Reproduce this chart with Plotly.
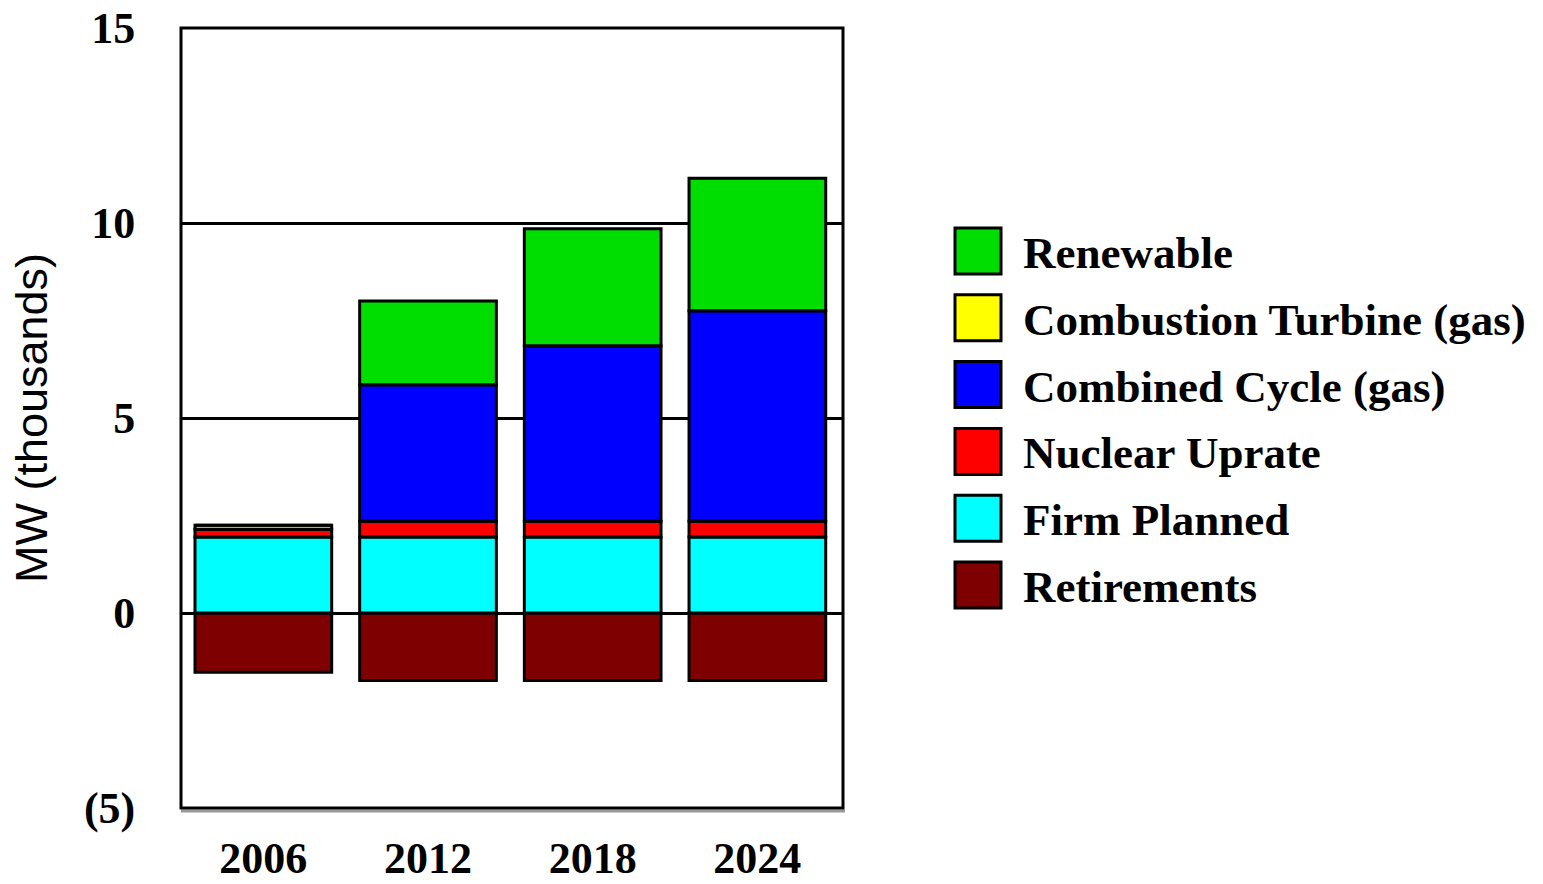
import plotly.graph_objects as go

years = ["2006", "2012", "2018", "2024"]
retirements = [-1.52, -1.73, -1.73, -1.73]
firm_planned = [1.95, 1.95, 1.95, 1.95]
nuclear_uprate = [0.2, 0.4, 0.4, 0.4]
combined_cycle = [0.0, 3.5, 4.5, 5.4]
combustion_turbine = [0.1, 0.0, 0.0, 0.0]
renewable = [0.0, 2.15, 3.0, 3.4]

series = [
    ("Retirements", retirements, "#7f0000"),
    ("Firm Planned", firm_planned, "#00ffff"),
    ("Nuclear Uprate", nuclear_uprate, "#ff0000"),
    ("Combined Cycle (gas)", combined_cycle, "#0000ff"),
    ("Combustion Turbine (gas)", combustion_turbine, "#ffff00"),
    ("Renewable", renewable, "#00dd00"),
]

y_tickvals = [-5, 0, 5, 10, 15]
y_ticktext = ["(5)", "0", "5", "10", "15"]

W, H = 1543, 884
# target pixel positions in the screenshot
L, R, T, B = 181, 843, 28, 808

fig = go.Figure()
for name, vals, color in series:
    fig.add_trace(go.Bar(
        x=years, y=vals, name=name, width=0.83,
        marker=dict(color=color, line=dict(color="black", width=3)),
        showlegend=False,
    ))

serif = "Liberation Serif, Times New Roman, serif"

def px_x(p):
    return (p - L) / (R - L)

def px_y(p):
    return (B - p) / (B - T)

shapes = []
annotations = []
# frame shadow and frame
shapes.append(dict(type="line", xref="paper", yref="paper", x0=px_x(L), x1=px_x(R + 2), y0=px_y(B + 3), y1=px_y(B + 3),
                   line=dict(color="#999999", width=3)))
shapes.append(dict(type="rect", xref="paper", yref="paper", x0=0, x1=1, y0=0, y1=1,
                   line=dict(color="black", width=3)))

# custom legend
legend_order = list(reversed(series))
top_center = 251
spacing = 66.8
for i, (name, vals, color) in enumerate(legend_order):
    cy = top_center + i * spacing
    shapes.append(dict(type="rect", xref="paper", yref="paper",
                       x0=px_x(955), x1=px_x(1001), y0=px_y(cy + 23), y1=px_y(cy - 23),
                       fillcolor=color, line=dict(color="black", width=3)))
    annotations.append(dict(xref="paper", yref="paper", x=px_x(1021), y=px_y(cy + 2),
                            text=name, showarrow=False, xanchor="left", yanchor="middle",
                            font=dict(family=serif, size=45, color="black", weight="bold")))

fig.update_layout(
    width=W, height=H,
    margin=dict(l=L, r=W - R, t=T, b=H - B, autoexpand=False),
    paper_bgcolor="white", plot_bgcolor="white",
    barmode="relative",
    shapes=shapes,
    annotations=annotations,
    xaxis=dict(
        type="category", range=[-0.5, 3.52], automargin=False,
        showgrid=False, zeroline=False, showline=False,
        ticks="outside", ticklen=11, tickcolor="rgba(0,0,0,0)",
        ticklabeloverflow="allow",
        tickfont=dict(family=serif, size=44, color="black", weight="bold"),
    ),
    yaxis=dict(
        range=[-5, 15], tickvals=y_tickvals, ticktext=y_ticktext, automargin=False,
        showgrid=True, gridcolor="black", gridwidth=2.5,
        zeroline=True, zerolinecolor="black", zerolinewidth=3,
        showline=False,
        ticks="outside", ticklen=36, tickcolor="rgba(0,0,0,0)",
        ticklabeloverflow="allow",
        tickfont=dict(family=serif, size=44, color="black", weight="bold"),
        title=dict(text="MW (thousands)", standoff=22,
                   font=dict(family="Liberation Sans, Arial, sans-serif", size=45, color="black")),
    ),
)

fig.write_html("out.html", config={"displayModeBar": False},
               post_script="document.body.style.margin='0';")
